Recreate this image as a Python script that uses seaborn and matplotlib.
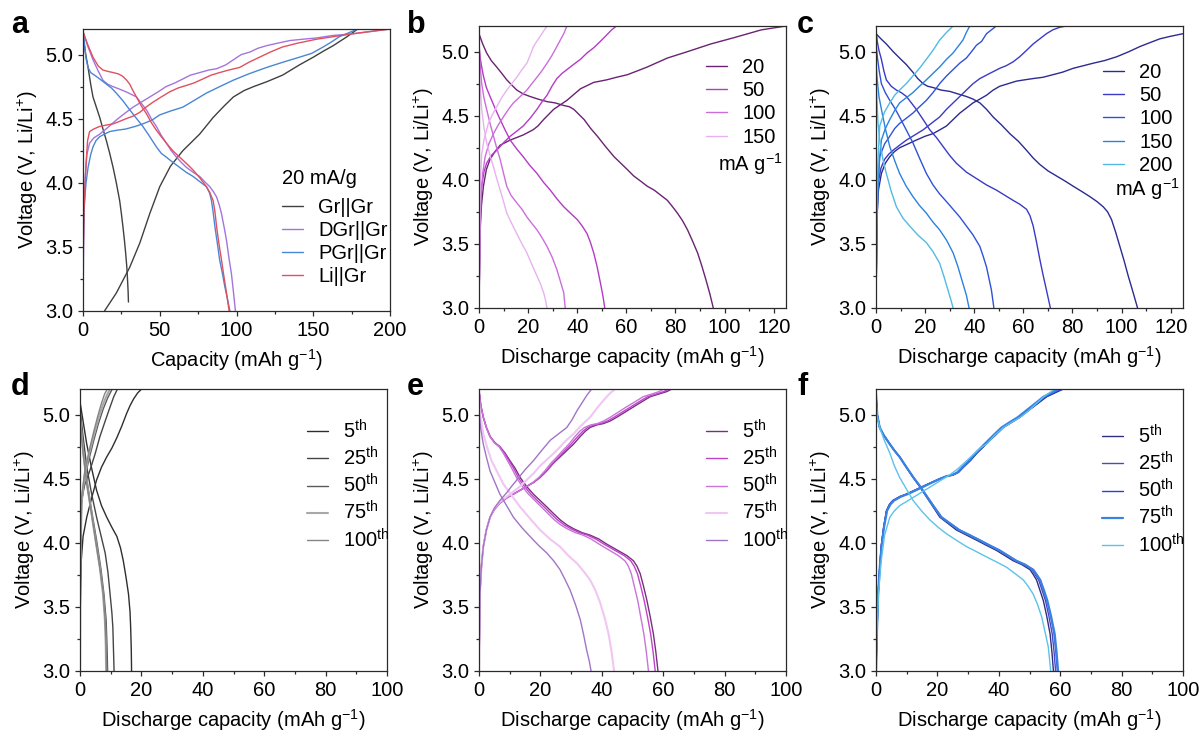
import matplotlib
matplotlib.use("Agg")
import matplotlib.pyplot as plt
from matplotlib.ticker import MultipleLocator, FormatStrFormatter
import seaborn as sns

# ---------------- data: capacity (mAh/g) and voltage (V) ----------------
# a: 20 mA/g, four cells
A_LEGEND = ["Gr||Gr", "DGr||Gr", "PGr||Gr", "Li||Gr"]
A_COLORS = ["#404040", "#a474dc", "#4a86d6", "#e0505e"]

A_GR_CH_X = [14, 21.7, 30.4, 37, 43.5, 50, 57, 65, 76, 84.8, 92, 98, 105, 111, 120, 130, 141, 150, 157, 163, 172, 179]
A_GR_CH_Y = [3.0, 3.14, 3.34, 3.53, 3.76, 3.97, 4.13, 4.25, 4.38, 4.51, 4.6, 4.67, 4.72, 4.75, 4.79, 4.84, 4.92, 4.98, 5.03, 5.07, 5.14, 5.2]
A_GR_DC_X = [0, 1.5, 3.3, 5, 6.5, 8.7, 10.9, 13, 15.2, 17.4, 19.6, 21.7, 23.9, 25, 26, 27, 27.8, 28.5, 28.9, 29.4, 29.6]
A_GR_DC_Y = [5.16, 5.02, 4.9, 4.77, 4.67, 4.59, 4.51, 4.42, 4.33, 4.23, 4.12, 4.0, 3.86, 3.76, 3.66, 3.55, 3.45, 3.35, 3.27, 3.15, 3.07]

A_DGR_CH_X = [0, 0.3, 0.8, 1.5, 2.5, 4.3, 7, 10.9, 16, 21.7, 27, 32.6, 38, 43.5, 49, 54, 60, 65, 70, 76, 82, 87, 93, 98, 103, 108.7, 114, 119.6, 127, 134.8, 143, 152, 163, 174, 187, 200]
A_DGR_CH_Y = [3.0, 3.4, 3.8, 4.05, 4.22, 4.31, 4.35, 4.38, 4.43, 4.49, 4.54, 4.59, 4.63, 4.67, 4.71, 4.75, 4.78, 4.81, 4.84, 4.86, 4.88, 4.89, 4.92, 4.96, 5.0, 5.02, 5.05, 5.07, 5.09, 5.11, 5.12, 5.13, 5.15, 5.16, 5.18, 5.2]
A_DGR_DC_X = [0, 3, 6.5, 10, 13, 16, 19.6, 24, 28, 31.5, 34.8, 38, 41.3, 44.5, 47.8, 51, 54.3, 57.5, 60.9, 64, 67.4, 72, 76, 80, 82.6, 85, 87, 88.7, 90.2, 92, 93.5, 95, 96.7, 98, 99.3]
A_DGR_DC_Y = [5.18, 5.07, 4.96, 4.87, 4.8, 4.77, 4.75, 4.73, 4.71, 4.69, 4.67, 4.62, 4.57, 4.5, 4.44, 4.37, 4.31, 4.25, 4.2, 4.16, 4.12, 4.08, 4.05, 4.0, 3.97, 3.93, 3.89, 3.83, 3.76, 3.65, 3.55, 3.42, 3.29, 3.15, 3.0]

A_PGR_CH_X = [0, 0, 0.3, 1, 2, 3.3, 5, 6.5, 8.5, 10.9, 14, 17.4, 22, 28, 34, 39, 45, 50, 57, 65, 72, 80.4, 89, 97.8, 108, 119.6, 130, 141, 149, 156.5, 162, 167, 173, 179]
A_PGR_CH_Y = [3.0, 3.4, 3.65, 3.86, 4.0, 4.12, 4.22, 4.28, 4.33, 4.36, 4.38, 4.4, 4.41, 4.42, 4.44, 4.46, 4.49, 4.53, 4.56, 4.59, 4.64, 4.7, 4.75, 4.8, 4.85, 4.9, 4.94, 4.98, 5.01, 5.06, 5.1, 5.14, 5.17, 5.2]
A_PGR_DC_X = [0, 0.8, 2, 3.3, 5, 8.7, 12, 15.2, 18.5, 21.7, 26, 30.4, 35, 39, 43.5, 47.8, 51, 54.3, 58.5, 63, 67.5, 71.7, 76, 80.4, 82.5, 83.7, 84.8, 85.9, 87.5, 89, 90.7, 92.4, 94, 95.7]
A_PGR_DC_Y = [5.2, 5.1, 4.97, 4.9, 4.86, 4.83, 4.8, 4.77, 4.74, 4.7, 4.64, 4.57, 4.5, 4.44, 4.36, 4.28, 4.23, 4.2, 4.16, 4.12, 4.08, 4.05, 4.01, 3.97, 3.92, 3.86, 3.77, 3.66, 3.53, 3.4, 3.3, 3.19, 3.1, 3.0]

A_LI_CH_X = [0, 0.2, 0.6, 1.2, 2, 3, 4.3, 7, 10.9, 15, 19.6, 24, 28, 32.5, 37, 41, 45.7, 51, 56.5, 62, 67.4, 72.5, 78, 83.5, 89, 95, 102, 108, 115, 122, 130, 140, 152, 163, 174, 187, 200]
A_LI_CH_Y = [3.0, 3.5, 3.75, 3.95, 4.15, 4.33, 4.4, 4.42, 4.44, 4.45, 4.46, 4.48, 4.5, 4.52, 4.55, 4.59, 4.63, 4.67, 4.71, 4.74, 4.76, 4.78, 4.81, 4.84, 4.86, 4.88, 4.9, 4.94, 4.98, 5.02, 5.06, 5.09, 5.12, 5.14, 5.16, 5.18, 5.2]
A_LI_DC_X = [0, 3, 6.5, 10, 13, 16, 19.6, 23, 26, 28.5, 30.4, 32.5, 34.8, 38, 41.3, 44.5, 47.8, 51, 54.3, 58.5, 63, 67.5, 71.7, 76, 80.4, 82.8, 84.8, 86, 87, 88.5, 90.2, 91.8, 93.5, 95.2]
A_LI_DC_Y = [5.18, 5.08, 4.98, 4.91, 4.88, 4.87, 4.86, 4.85, 4.83, 4.8, 4.77, 4.72, 4.67, 4.6, 4.54, 4.47, 4.41, 4.36, 4.31, 4.25, 4.2, 4.15, 4.1, 4.04, 3.97, 3.92, 3.86, 3.77, 3.66, 3.53, 3.4, 3.27, 3.14, 3.0]

# b: rate test (mA/g), cell one
B_LEGEND = ["20", "50", "100", "150"]
B_COLORS = ["#6a2372", "#b53ac8", "#cc6ddc", "#e8b2f0"]

B20_CH_X = [0, 0.2, 0.4, 1, 1.8, 3, 4.5, 6.5, 8.6, 12.7, 18, 22, 24, 26.3, 30.4, 35.8, 41.3, 46.7, 52, 56, 60.4, 64.5, 68.5, 76.7, 84.9, 94.4, 104, 115, 125]
B20_CH_Y = [3.0, 3.3, 3.58, 3.8, 3.95, 4.08, 4.16, 4.22, 4.27, 4.31, 4.35, 4.39, 4.42, 4.47, 4.55, 4.62, 4.71, 4.76, 4.78, 4.8, 4.82, 4.85, 4.88, 4.95, 5.0, 5.06, 5.11, 5.17, 5.2]
B20_DC_X = [0, 1.5, 3.1, 5, 7.2, 9.3, 11.3, 13.3, 15.4, 18, 20.8, 24, 27.7, 31, 34.5, 36.8, 38.6, 40.7, 42.8, 45.5, 48.2, 51.5, 55, 57.7, 60.4, 63, 65.8, 68.5, 71.3, 74, 76.7, 78.8, 80.8, 82.9, 84.9, 87, 89, 90.7, 92.4, 94, 95.4]
B20_DC_Y = [5.14, 5.06, 4.99, 4.93, 4.88, 4.83, 4.78, 4.74, 4.7, 4.67, 4.65, 4.63, 4.61, 4.6, 4.58, 4.57, 4.55, 4.51, 4.47, 4.4, 4.34, 4.26, 4.18, 4.13, 4.08, 4.03, 3.99, 3.95, 3.92, 3.88, 3.84, 3.79, 3.74, 3.68, 3.61, 3.52, 3.43, 3.33, 3.22, 3.11, 3.0]

B50_CH_X = [0, 0.3, 0.6, 1.1, 2, 3.1, 5, 7.2, 10, 12.7, 15.4, 18, 20.8, 23.6, 25.7, 27.7, 29.7, 31.7, 33.8, 35.8, 38.5, 41.3, 44, 46.7, 49.4, 52, 54, 56]
B50_CH_Y = [3.0, 3.4, 3.75, 3.95, 4.06, 4.13, 4.19, 4.23, 4.29, 4.34, 4.38, 4.42, 4.48, 4.55, 4.61, 4.66, 4.73, 4.79, 4.83, 4.86, 4.9, 4.94, 4.99, 5.03, 5.08, 5.13, 5.17, 5.2]
B50_DC_X = [0, 0.5, 1.1, 1.8, 3, 4.5, 6.5, 8.6, 10.6, 12.7, 15.4, 18, 20.8, 23.6, 26.3, 29, 31.8, 34.5, 37.2, 40, 42, 44, 45.4, 46.7, 48, 49.5, 50.5, 51.2]
B50_DC_Y = [5.05, 4.95, 4.88, 4.81, 4.72, 4.65, 4.56, 4.47, 4.39, 4.31, 4.24, 4.18, 4.11, 4.05, 3.98, 3.92, 3.85, 3.79, 3.74, 3.69, 3.64, 3.58, 3.51, 3.43, 3.33, 3.19, 3.09, 3.0]

B100_CH_X = [0, 0.3, 0.7, 1.5, 2.5, 4, 5.9, 7.9, 9.9, 12, 14, 16.8, 19.5, 21.5, 23.6, 25.6, 27.7, 29.7, 31.7, 33.1, 34.5, 35.8]
B100_CH_Y = [3.0, 3.5, 3.84, 4.05, 4.18, 4.28, 4.36, 4.43, 4.49, 4.55, 4.6, 4.65, 4.7, 4.75, 4.8, 4.85, 4.91, 4.97, 5.04, 5.09, 5.14, 5.2]
B100_DC_X = [0, 0.3, 0.6, 1.1, 2, 3.1, 4.5, 5.9, 7.2, 8.6, 10, 11.3, 13, 15.4, 17.5, 19.5, 21.5, 23.6, 25.6, 27.7, 29.7, 31.7, 33.1, 34.5, 35.1]
B100_DC_Y = [5.04, 4.95, 4.86, 4.75, 4.64, 4.55, 4.44, 4.34, 4.25, 4.16, 4.05, 3.95, 3.88, 3.82, 3.77, 3.71, 3.66, 3.61, 3.55, 3.48, 3.4, 3.3, 3.21, 3.12, 3.0]

B150_CH_X = [0, 0.3, 0.6, 1.1, 2, 3.8, 5.5, 7.2, 9.2, 11.3, 13.3, 15.4, 17.5, 19.5, 20.8, 22.2, 23.5, 24.9, 26.3, 27.7]
B150_CH_Y = [3.0, 3.6, 4.0, 4.2, 4.31, 4.44, 4.51, 4.57, 4.64, 4.7, 4.75, 4.8, 4.86, 4.91, 4.97, 5.04, 5.08, 5.12, 5.16, 5.2]
B150_DC_X = [0, 0.4, 1.1, 2, 3.1, 4.5, 5.9, 7.2, 8.6, 10, 11.3, 13.3, 15.4, 17.5, 19.5, 21.5, 23.6, 25, 26.3, 27.1, 27.7]
B150_DC_Y = [4.95, 4.75, 4.55, 4.41, 4.29, 4.19, 4.1, 4.01, 3.92, 3.83, 3.74, 3.66, 3.58, 3.5, 3.43, 3.34, 3.25, 3.19, 3.12, 3.06, 3.0]

# c: rate test (mA/g), cell two
C_LEGEND = ["20", "50", "100", "150", "200"]
C_COLORS = ["#2b2b92", "#3a3ac6", "#3052d6", "#2a82e0", "#52bae2"]

C20_CH_X = [0, 0.2, 0.4, 1, 2.2, 3.8, 5.6, 7.5, 9.6, 13, 16.4, 20, 23.2, 26, 28.7, 31.4, 34.1, 36.8, 39.5, 42.3, 45, 47.7, 50.4, 53.8, 57.2, 60.5, 64, 68, 72, 76, 80.3, 84.4, 88.5, 93, 98, 103, 107.5, 111.5, 115.6, 120, 125]
C20_CH_Y = [3.0, 3.35, 3.71, 3.92, 4.05, 4.13, 4.18, 4.22, 4.25, 4.28, 4.31, 4.34, 4.36, 4.39, 4.42, 4.47, 4.52, 4.56, 4.6, 4.63, 4.66, 4.7, 4.73, 4.75, 4.77, 4.78, 4.79, 4.8, 4.82, 4.84, 4.87, 4.89, 4.91, 4.93, 4.96, 5.0, 5.04, 5.07, 5.1, 5.12, 5.14]
C20_DC_X = [0, 2, 4.2, 7, 9.6, 12.3, 15, 17, 19.2, 21, 23.2, 26.5, 30, 33.4, 36.8, 39.5, 42.3, 45, 47.7, 51, 54.5, 58, 61.3, 64, 66.7, 70, 73.5, 77, 80.3, 83.7, 87, 90, 92.5, 94.3, 95.9, 97.6, 99.3, 101, 102.7, 104.7, 106.5]
C20_DC_Y = [5.14, 5.1, 5.06, 5.0, 4.95, 4.9, 4.84, 4.79, 4.75, 4.73, 4.72, 4.7, 4.69, 4.67, 4.65, 4.63, 4.6, 4.55, 4.49, 4.43, 4.36, 4.3, 4.23, 4.17, 4.12, 4.07, 4.03, 3.99, 3.95, 3.91, 3.87, 3.83, 3.79, 3.75, 3.69, 3.59, 3.48, 3.37, 3.25, 3.12, 3.0]

C50_CH_X = [0, 0.3, 0.8, 2, 3.5, 5.2, 6.9, 9.6, 12.4, 15.8, 19.2, 22.5, 25.9, 28.7, 31.4, 34.1, 36.8, 39.5, 42.3, 46.3, 50.4, 53, 55.8, 58.5, 61.3, 64, 66.7, 69.4, 72, 74.8, 77.6]
C50_CH_Y = [3.0, 3.6, 3.97, 4.09, 4.16, 4.2, 4.23, 4.27, 4.31, 4.35, 4.39, 4.44, 4.49, 4.55, 4.6, 4.65, 4.7, 4.75, 4.79, 4.83, 4.87, 4.89, 4.92, 4.96, 5.01, 5.06, 5.1, 5.14, 5.17, 5.19, 5.2]
C50_DC_X = [0, 0.5, 1.2, 2.2, 3.2, 4.2, 6.2, 8.3, 10.3, 12.4, 14.4, 16.4, 19.2, 21.9, 24.6, 27.3, 30, 32.7, 36.8, 40.9, 45, 49, 52.4, 55.8, 58.5, 61.3, 62.7, 64, 65.3, 66.7, 68, 69.4, 70.2, 71]
C50_DC_Y = [5.17, 5.08, 5.01, 4.94, 4.85, 4.78, 4.73, 4.7, 4.68, 4.65, 4.6, 4.55, 4.47, 4.39, 4.33, 4.26, 4.19, 4.13, 4.06, 4.01, 3.96, 3.92, 3.88, 3.84, 3.81, 3.77, 3.72, 3.64, 3.52, 3.38, 3.26, 3.14, 3.07, 3.0]

C100_CH_X = [0, 0.3, 0.7, 1.5, 3.5, 5.6, 7.6, 9.6, 12.3, 15, 17.7, 20.5, 23.2, 25.9, 28.7, 31.4, 34.1, 36.8, 38.9, 40.9, 43, 45, 47, 49]
C100_CH_Y = [3.0, 3.6, 3.95, 4.18, 4.28, 4.34, 4.4, 4.44, 4.48, 4.52, 4.57, 4.62, 4.68, 4.75, 4.81, 4.86, 4.91, 4.95, 5.0, 5.05, 5.08, 5.14, 5.17, 5.2]
C100_DC_X = [0, 0.6, 1.3, 2.2, 3.8, 5.6, 7.6, 9.6, 12.3, 15, 17.7, 20.5, 23.2, 25.9, 28.7, 31.4, 34.1, 36.8, 39.5, 42.3, 43.7, 45, 46, 47, 48]
C100_DC_Y = [5.06, 4.95, 4.85, 4.75, 4.68, 4.62, 4.56, 4.49, 4.39, 4.29, 4.17, 4.05, 3.96, 3.89, 3.83, 3.77, 3.71, 3.64, 3.57, 3.48, 3.4, 3.32, 3.23, 3.14, 3.0]

C150_CH_X = [0, 0.3, 0.8, 1.5, 2.2, 3.8, 5.6, 7.6, 9.6, 12.3, 15, 17.7, 20.5, 23.2, 25.9, 28.7, 31.4, 33.4, 35.4, 36.8, 38.2]
C150_CH_Y = [3.0, 3.55, 3.95, 4.18, 4.31, 4.4, 4.47, 4.54, 4.6, 4.64, 4.68, 4.73, 4.78, 4.83, 4.88, 4.94, 4.99, 5.04, 5.09, 5.15, 5.2]
C150_DC_X = [0, 0.4, 1.2, 2.2, 3.8, 5.6, 7.6, 9.6, 12.3, 15, 17.7, 20.5, 23.2, 25.9, 28.7, 31.4, 33.4, 35.4, 36.8, 37.9]
C150_DC_Y = [4.92, 4.8, 4.65, 4.55, 4.4, 4.26, 4.15, 4.05, 3.95, 3.87, 3.8, 3.74, 3.67, 3.61, 3.53, 3.43, 3.32, 3.19, 3.1, 3.0]

C200_CH_X = [0, 0.3, 0.8, 1.5, 3.5, 5.6, 7.6, 9.6, 12.3, 15, 17.7, 20.5, 23.2, 25.9, 28.7, 31.4]
C200_CH_Y = [3.0, 3.7, 4.15, 4.42, 4.53, 4.6, 4.66, 4.7, 4.75, 4.81, 4.87, 4.94, 5.01, 5.09, 5.15, 5.2]
C200_DC_X = [0, 0.3, 0.8, 1.5, 2.8, 4.2, 6.2, 8.3, 11, 13.7, 17, 20.5, 23.2, 25.9, 27.6, 29.3, 30.4, 31.4]
C200_DC_Y = [4.85, 4.65, 4.45, 4.31, 4.16, 4.05, 3.91, 3.79, 3.7, 3.64, 3.57, 3.51, 3.44, 3.35, 3.25, 3.14, 3.07, 3.0]

# d-f: cycling, selected cycles
CYCLE_LEGEND = [r"5$^{\mathrm{th}}$", r"25$^{\mathrm{th}}$", r"50$^{\mathrm{th}}$",
                r"75$^{\mathrm{th}}$", r"100$^{\mathrm{th}}$"]
D_COLORS = ["#2e2e2e", "#454545", "#5a5a5a", "#a8a8a8", "#858585"]
E_COLORS = ["#7a2e82", "#c143cc", "#c874d8", "#f0c6f2", "#a274c6"]
F_COLORS = ["#2e2e82", "#4848c8", "#2a42d2", "#3a82e2", "#5cc2ea"]

D5_CH_X = [0, 0.1, 0.4, 1, 2.2, 3.8, 5.4, 7, 8.7, 10.4, 12, 13.6, 15.2, 16.3, 17.4, 18.8, 20.1]
D5_CH_Y = [3.0, 3.5, 3.86, 4.05, 4.2, 4.35, 4.49, 4.59, 4.67, 4.74, 4.82, 4.91, 5.01, 5.07, 5.12, 5.17, 5.2]
D5_DC_X = [0, 1, 2.2, 3.8, 5.4, 7, 8.7, 10.4, 12, 13.2, 14.1, 15, 15.8, 16.3, 16.5, 16.7, 16.8]
D5_DC_Y = [5.1, 4.95, 4.77, 4.58, 4.41, 4.29, 4.2, 4.12, 4.05, 3.96, 3.86, 3.73, 3.6, 3.46, 3.34, 3.17, 3.0]
D25_CH_X = [0, 0.1, 0.5, 1.5, 3.3, 5, 6.5, 8.2, 9.8, 11, 12.2]
D25_CH_Y = [3.0, 3.7, 4.33, 4.45, 4.57, 4.7, 4.83, 4.95, 5.06, 5.14, 5.2]
D25_DC_X = [0, 1, 2.2, 3.8, 5.4, 7, 8.2, 9.1, 9.8, 10.4, 10.7, 11.1]
D25_DC_Y = [5.05, 4.83, 4.59, 4.38, 4.2, 4.04, 3.92, 3.77, 3.6, 3.45, 3.34, 3.0]
D50_CH_X = [0, 0.1, 0.5, 1.5, 3, 4.5, 6, 7.5, 9, 10.5]
D50_CH_Y = [3.0, 3.7, 4.3, 4.5, 4.66, 4.8, 4.93, 5.04, 5.13, 5.2]
D50_DC_X = [0, 1, 2.2, 3.8, 5.4, 6.8, 7.8, 8.5, 8.8, 9.0]
D50_DC_Y = [5.0, 4.75, 4.5, 4.25, 4.02, 3.8, 3.6, 3.4, 3.2, 3.0]
D75_CH_X = [0, 0.1, 0.5, 1.5, 3, 4.5, 6, 7.5, 8.7, 9.8]
D75_CH_Y = [3.0, 3.75, 4.32, 4.52, 4.7, 4.84, 4.97, 5.08, 5.15, 5.2]
D75_DC_X = [0, 1, 2.2, 3.8, 5.2, 6.5, 7.5, 8.1, 8.4, 8.5]
D75_DC_Y = [4.98, 4.72, 4.47, 4.22, 4.0, 3.8, 3.6, 3.4, 3.2, 3.0]
D100_CH_X = [0, 0.1, 0.5, 1.5, 3, 4.5, 5.8, 7, 8, 8.9]
D100_CH_Y = [3.0, 3.8, 4.35, 4.55, 4.72, 4.87, 4.99, 5.09, 5.16, 5.2]
D100_DC_X = [0, 1, 2.2, 3.8, 5.2, 6.5, 7.6, 8.2, 8.5, 8.7]
D100_DC_Y = [4.96, 4.7, 4.46, 4.22, 4.0, 3.8, 3.6, 3.4, 3.2, 3.0]

E_CH_Y = [3.0, 3.3, 3.6, 3.82, 3.97, 4.1, 4.2, 4.26, 4.31, 4.35, 4.38, 4.41, 4.44, 4.47, 4.51, 4.56, 4.62, 4.67, 4.72, 4.77, 4.83, 4.87, 4.9, 4.92, 4.93, 4.95, 4.98, 5.02, 5.06, 5.1, 5.14, 5.16, 5.18, 5.2]
E5_CH_X = [0, 0.15, 0.3, 0.8, 1.4, 2.4, 3.6, 5, 6.8, 9, 11.2, 13.4, 15.5, 17.7, 19.9, 22, 24.2, 26.4, 28.6, 30.8, 33, 34.6, 36.2, 38.4, 40.5, 42.7, 44.9, 47.6, 50.3, 53, 55.8, 58.5, 61.2, 62.8]
E25_CH_X = [0, 0.15, 0.3, 0.8, 1.4, 2.4, 3.6, 5, 6.8, 9, 11.2, 13.4, 15.5, 17.7, 19.9, 22, 24, 26, 28, 30, 32.2, 33.8, 35.4, 37.5, 39.6, 41.8, 44, 46.7, 49.4, 52.1, 54.9, 57.6, 60.2, 61.7]
E50_CH_X = [0, 0.15, 0.3, 0.8, 1.4, 2.4, 3.6, 5, 6.8, 9, 11.2, 13.4, 15.5, 17.5, 19.5, 21.4, 23.4, 25.4, 27.3, 29.3, 31.3, 32.8, 34.4, 36.4, 38.5, 40.6, 42.8, 45.4, 48, 50.8, 53.5, 56.2, 58.7, 60.2]
E75_CH_X = [0, 0.15, 0.3, 0.8, 1.4, 2.4, 3.6, 5, 6.8, 9, 11.2, 13.4, 15.5, 17.7, 19.9, 22.6, 25.3, 28, 30.8, 33.5, 36.2, 38.4, 40.5, 42.4, 44.3]
E75_CH_Y = [3.0, 3.3, 3.6, 3.82, 3.97, 4.1, 4.2, 4.27, 4.32, 4.36, 4.4, 4.44, 4.49, 4.54, 4.6, 4.66, 4.72, 4.79, 4.85, 4.92, 4.98, 5.05, 5.11, 5.16, 5.2]
E100_CH_X = [0, 0.15, 0.3, 0.8, 1.4, 2.4, 3.6, 5, 6.8, 9, 10.6, 12.3, 15, 17.7, 20.4, 23.2, 25.9, 28.6, 30.3, 31.9, 33.5, 35.1, 36.7]
E100_CH_Y = [3.0, 3.3, 3.6, 3.82, 3.97, 4.1, 4.2, 4.27, 4.33, 4.39, 4.44, 4.49, 4.57, 4.64, 4.72, 4.8, 4.85, 4.9, 4.96, 5.03, 5.09, 5.15, 5.2]

E_DC_Y = [5.19, 5.07, 4.98, 4.9, 4.83, 4.78, 4.75, 4.7, 4.64, 4.58, 4.51, 4.44, 4.38, 4.33, 4.28, 4.23, 4.18, 4.14, 4.11, 4.08, 4.06, 4.03, 3.99, 3.96, 3.93, 3.9, 3.86, 3.82, 3.76, 3.66, 3.55, 3.42, 3.29, 3.15, 3.0]
E5_DC_X = [0, 0.6, 1.4, 2.4, 3.6, 5.2, 6.8, 8.5, 10.1, 11.8, 13.4, 15.5, 17.7, 19.9, 22.1, 24.2, 26.4, 28.6, 30.8, 33.5, 36.2, 39, 41.6, 43.8, 46, 48.2, 50.3, 51.4, 52.5, 53.6, 54.7, 55.8, 56.8, 57.6, 58.3]
E25_DC_X = [0, 0.6, 1.4, 2.4, 3.6, 5.2, 6.8, 8.3, 9.8, 11.3, 12.8, 14.8, 16.9, 19, 21.2, 23.3, 25.5, 27.7, 29.9, 32.6, 35.3, 38, 40.7, 42.9, 45.1, 47.3, 49.4, 50.5, 51.6, 52.7, 53.8, 54.9, 55.9, 56.7, 57.4]
E50_DC_X = [0, 0.6, 1.4, 2.4, 3.5, 5, 6.5, 7.9, 9.3, 10.7, 12.2, 14.1, 16.1, 18.2, 20.3, 22.4, 24.5, 26.6, 28.7, 31.3, 33.9, 36.5, 39.1, 41.2, 43.3, 45.4, 47.5, 48.6, 49.6, 50.6, 51.7, 52.7, 53.7, 54.5, 55.2]
E75_DC_X = [0, 0.5, 1.4, 2.7, 4.1, 6, 7.9, 10.6, 13.4, 16.6, 19.9, 23.1, 26.4, 29.1, 31.9, 34, 36.2, 37.9, 39.5, 41, 42.2, 43.2, 44]
E75_DC_Y = [5.11, 4.98, 4.85, 4.74, 4.64, 4.55, 4.46, 4.37, 4.28, 4.19, 4.1, 4.03, 3.97, 3.9, 3.84, 3.78, 3.71, 3.63, 3.53, 3.41, 3.29, 3.15, 3.0]
E100_DC_X = [0, 0.5, 1.4, 2.5, 3.6, 5.2, 6.8, 9, 11.2, 13.9, 16.6, 19.4, 22.1, 24.3, 26.4, 28.1, 29.7, 31.4, 33, 34.1, 35.1, 35.9, 36.5]
E100_DC_Y = [5.03, 4.9, 4.77, 4.66, 4.56, 4.47, 4.38, 4.29, 4.2, 4.12, 4.05, 3.98, 3.92, 3.86, 3.79, 3.71, 3.63, 3.52, 3.4, 3.28, 3.16, 3.08, 3.0]

F_CH_Y = [3.0, 3.3, 3.6, 3.8, 3.97, 4.12, 4.25, 4.3, 4.33, 4.36, 4.38, 4.41, 4.44, 4.47, 4.5, 4.52, 4.53, 4.55, 4.59, 4.64, 4.7, 4.75, 4.8, 4.85, 4.9, 4.94, 4.98, 5.02, 5.06, 5.1, 5.14, 5.17, 5.2]
F5_CH_X = [0, 0.3, 0.7, 1.2, 1.7, 2.5, 3.4, 4.4, 5.5, 7.7, 9.9, 12.6, 15.3, 18, 20.8, 23, 25.1, 26.8, 28.4, 30.6, 32.8, 35, 37.1, 39.3, 41.5, 44.2, 46.9, 49, 51.2, 53.4, 55.6, 58.3, 61]
F25_CH_X = [0, 0.3, 0.7, 1.2, 1.7, 2.5, 3.4, 4.4, 5.5, 7.7, 9.9, 12.6, 15.3, 18, 20.8, 23, 25.0, 26.6, 28.2, 30.4, 32.6, 34.8, 36.9, 39.1, 41.3, 44.0, 46.7, 48.8, 51.0, 53.1, 55.3, 57.9, 60.5]
F50_CH_X = [0, 0.3, 0.7, 1.2, 1.7, 2.5, 3.5, 4.6, 5.8, 8.0, 10.2, 12.9, 15.6, 18.2, 21.0, 23.2, 25.2, 26.9, 28.5, 30.7, 32.9, 35.0, 37.1, 39.3, 41.4, 44.1, 46.8, 48.9, 51.1, 53.3, 55.5, 58.1, 60.8]
F75_CH_X = [0, 0.3, 0.7, 1.2, 1.8, 2.6, 3.6, 4.7, 5.9, 8.1, 10.3, 13.0, 15.6, 18.2, 20.9, 23.0, 24.9, 26.5, 28.1, 30.2, 32.4, 34.5, 36.6, 38.7, 40.9, 43.5, 46.2, 48.3, 50.4, 52.5, 54.6, 57.1, 59.5]
F100_CH_X = [0, 0.3, 0.8, 1.7, 2.8, 4.5, 6, 7.7, 10.5, 13.2, 15.9, 18.6, 21.3, 24, 26.8, 29.5, 32.2, 34, 36, 38.7, 41.5, 44.2, 47, 49.7, 52.4, 55.2, 58.3]
F100_CH_Y = [3.0, 3.3, 3.6, 3.86, 4.06, 4.2, 4.25, 4.29, 4.33, 4.37, 4.41, 4.45, 4.49, 4.53, 4.58, 4.64, 4.7, 4.74, 4.77, 4.84, 4.9, 4.94, 4.98, 5.03, 5.09, 5.15, 5.2]

F_DC_Y = [5.16, 5.0, 4.9, 4.84, 4.77, 4.72, 4.67, 4.59, 4.51, 4.44, 4.36, 4.28, 4.2, 4.15, 4.1, 4.06, 4.02, 3.98, 3.94, 3.9, 3.86, 3.83, 3.79, 3.75, 3.71, 3.63, 3.55, 3.43, 3.29, 3.15, 3.0]
F5_DC_X = [0, 0.4, 1.2, 2.5, 4.5, 6, 7.7, 9.9, 12.1, 14.2, 16.4, 18.6, 20.8, 23.5, 26.2, 29.5, 32.8, 36, 39.3, 42, 44.7, 47.5, 50.2, 51.3, 52.3, 53.4, 54.5, 55.6, 56.7, 57.3, 57.8]
F25_DC_X = [0, 0.4, 1.2, 2.5, 4.5, 6, 7.7, 9.9, 12.1, 14.3, 16.6, 18.9, 21.2, 24.0, 26.8, 30.1, 33.4, 36.6, 39.9, 42.6, 45.3, 48.1, 50.8, 51.9, 53.0, 54.1, 55.2, 56.3, 57.4, 58.0, 58.5]
F50_DC_X = [0, 0.4, 1.2, 2.5, 4.5, 6, 7.7, 9.9, 12.2, 14.4, 16.7, 19.0, 21.4, 24.3, 27.2, 30.6, 33.9, 37.1, 40.4, 43.1, 45.8, 48.6, 51.3, 52.4, 53.5, 54.6, 55.7, 56.9, 58.0, 58.6, 59.1]
F75_DC_X = [0, 0.4, 1.2, 2.5, 4.5, 6, 7.7, 9.9, 12.2, 14.4, 16.6, 18.9, 21.3, 24.2, 27.1, 30.5, 33.8, 37.0, 40.3, 43.0, 45.7, 48.5, 51.2, 52.4, 53.5, 54.7, 55.8, 57.0, 58.2, 58.8, 59.3]
F100_DC_X = [0, 0.4, 1.2, 2.7, 4.5, 6, 7.7, 9.9, 12.1, 14.8, 17.5, 20.3, 23, 26.2, 29.5, 32.8, 36, 39.3, 42.5, 45.3, 48, 49.6, 51.2, 52.6, 54, 55.1, 56.1, 56.5, 56.9]
F100_DC_Y = [5.11, 4.98, 4.9, 4.8, 4.7, 4.6, 4.51, 4.42, 4.33, 4.25, 4.18, 4.12, 4.07, 4.02, 3.97, 3.93, 3.89, 3.85, 3.81, 3.76, 3.71, 3.66, 3.6, 3.52, 3.42, 3.3, 3.19, 3.1, 3.0]

YLABEL = r"Voltage (V, Li/Li$^{+}$)"
XLABEL_A = r"Capacity (mAh g$^{-1}$)"
XLABEL = r"Discharge capacity (mAh g$^{-1}$)"

# ---------------- style ----------------
FS = 14.5
sns.set_theme(style="ticks")
plt.rcParams.update({
    "font.family": ["Liberation Sans", "DejaVu Sans"],
    "mathtext.fontset": "custom",
    "mathtext.rm": "Liberation Sans",
    "mathtext.it": "Liberation Sans:italic",
    "mathtext.bf": "Liberation Sans:bold",
    "axes.edgecolor": "#2a2a2a",
    "axes.linewidth": 0.9,
    "xtick.color": "#2a2a2a",
    "ytick.color": "#2a2a2a",
    "xtick.labelcolor": "black",
    "ytick.labelcolor": "black",
    "text.color": "black",
    "axes.labelcolor": "black",
})

W, H = 1201, 736
fig = plt.figure(figsize=(W / 100, H / 100), dpi=100)


def add_axes(left, top, right, bottom):
    return fig.add_axes([left / W, 1 - bottom / H, (right - left) / W, (bottom - top) / H])


def setup(ax, xmax, xmajor, xminor, xlabel):
    ax.set_xlim(0, xmax)
    ax.set_ylim(3.0, 5.2)
    ax.xaxis.set_major_locator(MultipleLocator(xmajor))
    ax.xaxis.set_minor_locator(MultipleLocator(xminor))
    ax.yaxis.set_major_locator(MultipleLocator(0.5))
    ax.yaxis.set_minor_locator(MultipleLocator(0.25))
    ax.yaxis.set_major_formatter(FormatStrFormatter("%.1f"))
    ax.tick_params(which="both", direction="out", top=False, right=False)
    ax.tick_params(which="major", length=3.5, width=0.9, labelsize=FS, pad=3.5)
    ax.tick_params(which="minor", length=2.0, width=0.9)
    for s in ax.spines.values():
        s.set_visible(True)
    ax.set_xlabel(xlabel, fontsize=FS, labelpad=5)
    ax.set_ylabel(YLABEL, fontsize=FS, labelpad=4)


def curve(ax, x, y, color, lw=1.0):
    sns.lineplot(x=x, y=y, sort=False, estimator=None, color=color,
                 linewidth=lw, ax=ax, legend=False)
    return ax.lines[-1]


def legend(ax, handles, labels, x_px, top_px, spacing, title=None):
    leg = ax.legend(handles, labels, loc="upper left",
                    bbox_to_anchor=(x_px / W, 1 - top_px / H),
                    bbox_transform=fig.transFigure, frameon=False,
                    fontsize=FS, handlelength=1.05, handletextpad=0.75,
                    labelspacing=spacing, borderpad=0, borderaxespad=0,
                    title=title, title_fontsize=FS, alignment="left")
    if title is not None:
        # a little more room between the title and the first entry
        leg._legend_box.sep = 7
    return leg


def panel_label(text, x_px, y_px):
    fig.text(x_px / W, 1 - y_px / H, text, fontsize=22, fontweight="bold",
             ha="left", va="baseline")


# ---------------- a ----------------
ax = add_axes(83, 29, 390, 311)
series = [(A_GR_CH_X, A_GR_CH_Y, A_GR_DC_X, A_GR_DC_Y),
          (A_DGR_CH_X, A_DGR_CH_Y, A_DGR_DC_X, A_DGR_DC_Y),
          (A_PGR_CH_X, A_PGR_CH_Y, A_PGR_DC_X, A_PGR_DC_Y),
          (A_LI_CH_X, A_LI_CH_Y, A_LI_DC_X, A_LI_DC_Y)]
handles = []
for (cx, cy, dx, dy), col in zip(series, A_COLORS):
    handles.append(curve(ax, cx, cy, col))
    curve(ax, dx, dy, col)
setup(ax, 200, 50, 25, XLABEL_A)
legend(ax, handles, A_LEGEND, 282, 169, 0.2, title="20 mA/g")
panel_label("a", 11, 33)

# ---------------- b ----------------
ax = add_axes(479, 26, 786, 308)
series = [(B20_CH_X, B20_CH_Y, B20_DC_X, B20_DC_Y),
          (B50_CH_X, B50_CH_Y, B50_DC_X, B50_DC_Y),
          (B100_CH_X, B100_CH_Y, B100_DC_X, B100_DC_Y),
          (B150_CH_X, B150_CH_Y, B150_DC_X, B150_DC_Y)]
handles = []
for (cx, cy, dx, dy), col in zip(series, B_COLORS):
    handles.append(curve(ax, cx, cy, col))
    curve(ax, dx, dy, col)
setup(ax, 125, 20, 10, XLABEL)
legend(ax, handles, B_LEGEND, 706, 58, 0.21)
fig.text(783 / W, 1 - 164 / H, r"mA g$^{-1}$", fontsize=FS, ha="right", va="center")
panel_label("b", 407, 33)

# ---------------- c ----------------
ax = add_axes(876, 26, 1183, 308)
series = [(C20_CH_X, C20_CH_Y, C20_DC_X, C20_DC_Y),
          (C50_CH_X, C50_CH_Y, C50_DC_X, C50_DC_Y),
          (C100_CH_X, C100_CH_Y, C100_DC_X, C100_DC_Y),
          (C150_CH_X, C150_CH_Y, C150_DC_X, C150_DC_Y),
          (C200_CH_X, C200_CH_Y, C200_DC_X, C200_DC_Y)]
handles = []
for (cx, cy, dx, dy), col in zip(series, C_COLORS):
    handles.append(curve(ax, cx, cy, col))
    curve(ax, dx, dy, col)
setup(ax, 125, 20, 10, XLABEL)
legend(ax, handles, C_LEGEND, 1103, 63, 0.21)
fig.text(1180 / W, 1 - 189 / H, r"mA g$^{-1}$", fontsize=FS, ha="right", va="center")
panel_label("c", 797, 33)

# ---------------- d ----------------
ax = add_axes(80, 389, 387, 671)
series = [(D5_CH_X, D5_CH_Y, D5_DC_X, D5_DC_Y),
          (D25_CH_X, D25_CH_Y, D25_DC_X, D25_DC_Y),
          (D50_CH_X, D50_CH_Y, D50_DC_X, D50_DC_Y),
          (D75_CH_X, D75_CH_Y, D75_DC_X, D75_DC_Y),
          (D100_CH_X, D100_CH_Y, D100_DC_X, D100_DC_Y)]
handles = []
for i, ((cx, cy, dx, dy), col) in enumerate(zip(series, D_COLORS)):
    lw = 1.5 if i == 3 else 1.0
    handles.append(curve(ax, cx, cy, col, lw))
    curve(ax, dx, dy, col, lw)
setup(ax, 100, 20, 10, XLABEL)
legend(ax, handles, CYCLE_LEGEND, 307, 419, 0.2)
panel_label("d", 11, 395)

# ---------------- e ----------------
ax = add_axes(479, 389, 786, 671)
series = [(E5_CH_X, E_CH_Y, E5_DC_X, E_DC_Y),
          (E25_CH_X, E_CH_Y, E25_DC_X, E_DC_Y),
          (E50_CH_X, E_CH_Y, E50_DC_X, E_DC_Y),
          (E75_CH_X, E75_CH_Y, E75_DC_X, E75_DC_Y),
          (E100_CH_X, E100_CH_Y, E100_DC_X, E100_DC_Y)]
handles = []
for i, ((cx, cy, dx, dy), col) in enumerate(zip(series, E_COLORS)):
    lw = 1.5 if i == 3 else 1.0
    handles.append(curve(ax, cx, cy, col, lw))
    curve(ax, dx, dy, col, lw)
setup(ax, 100, 20, 10, XLABEL)
legend(ax, handles, CYCLE_LEGEND, 706, 419, 0.2)
panel_label("e", 407, 395)

# ---------------- f ----------------
ax = add_axes(876, 389, 1183, 671)
series = [(F5_CH_X, F_CH_Y, F5_DC_X, F_DC_Y),
          (F25_CH_X, F_CH_Y, F25_DC_X, F_DC_Y),
          (F50_CH_X, F_CH_Y, F50_DC_X, F_DC_Y),
          (F75_CH_X, F_CH_Y, F75_DC_X, F_DC_Y),
          (F100_CH_X, F100_CH_Y, F100_DC_X, F100_DC_Y)]
handles = []
for i, ((cx, cy, dx, dy), col) in enumerate(zip(series, F_COLORS)):
    lw = 1.6 if i == 3 else 1.0
    handles.append(curve(ax, cx, cy, col, lw))
    curve(ax, dx, dy, col, lw)
setup(ax, 100, 20, 10, XLABEL)
legend(ax, handles, CYCLE_LEGEND, 1102, 424, 0.2)
panel_label("f", 797, 395)

fig.savefig("out.png", dpi=100)
